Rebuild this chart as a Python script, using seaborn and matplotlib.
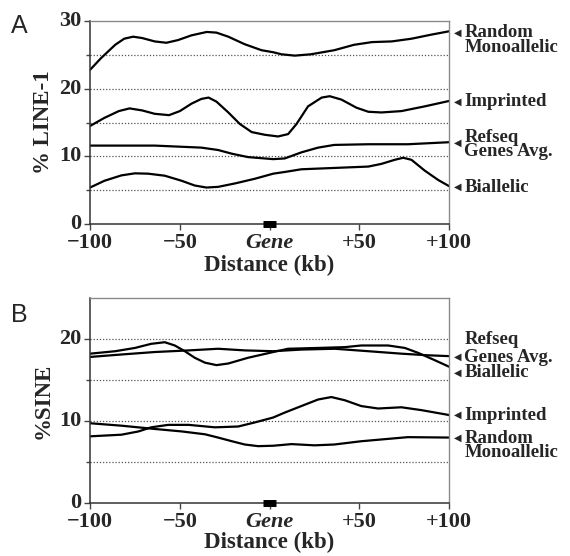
import numpy as np
import pandas as pd
import matplotlib
matplotlib.use("Agg")
import matplotlib.pyplot as plt
import matplotlib.transforms as mtransforms
import seaborn as sns

# ---- panel A: % LINE-1 ----
a_rand_x = [-100, -94, -86, -81, -76, -71, -64, -57.5, -51, -43.5, -35, -29.6, -23, -14, -4.5,
            2, 6.6, 14, 23, 36, 47, 57, 68, 79, 90, 100]
a_rand_y = [22.8, 24.5, 26.5, 27.4, 27.7, 27.5, 27.0, 26.8, 27.2, 27.9, 28.4, 28.3, 27.7, 26.6, 25.7,
            25.4, 25.1, 24.9, 25.1, 25.7, 26.5, 26.9, 27.0, 27.4, 28.0, 28.5]

a_impr_x = [-100, -92, -84, -78, -71, -64, -56, -50, -43.5, -38, -34, -29.6, -23, -16.6, -10, -2.7,
            4.7, 10.3, 15, 21.4, 29, 33.5, 40, 48.4, 55, 62.3, 73.4, 86.4, 100]
a_impr_y = [14.5, 15.7, 16.7, 17.1, 16.8, 16.3, 16.1, 16.7, 17.8, 18.5, 18.7, 18.1, 16.5, 14.8, 13.6, 13.2,
            12.95, 13.3, 14.8, 17.4, 18.7, 18.9, 18.4, 17.2, 16.6, 16.5, 16.7, 17.4, 18.2]

a_ref_x = [-100, -64, -38, -28.7, -21, -12, 2, 8.4, 17.7, 27, 36, 55, 77, 100]
a_ref_y = [11.6, 11.6, 11.3, 10.95, 10.4, 9.9, 9.6, 9.7, 10.6, 11.3, 11.7, 11.8, 11.8, 12.1]

a_bi_x = [-100, -92, -82.5, -75, -67.7, -58.4, -49, -41.7, -35.2, -28.7, -19.4, -8.2, 2,
          8.4, 17.7, 36.3, 55, 62.3, 69.7, 74.4, 79, 86.4, 94, 100]
a_bi_y = [5.4, 6.4, 7.2, 7.5, 7.45, 7.15, 6.4, 5.7, 5.4, 5.5, 6.0, 6.7, 7.45,
          7.7, 8.1, 8.3, 8.5, 8.9, 9.5, 9.8, 9.5, 7.9, 6.5, 5.6]

# ---- panel B: % SINE ----
b_ref_x = [-100, -82.5, -64, -45, -28.7, -13.8, 2, 17.7, 36.3, 55, 73.4, 88.3, 100]
b_ref_y = [17.8, 18.1, 18.4, 18.6, 18.8, 18.6, 18.5, 18.7, 18.8, 18.5, 18.2, 18.0, 17.9]

b_bi_x = [-100, -86, -75, -66, -58.4, -52.8, -47.2, -41.7, -36, -29.6, -23, -12, 2,
          10.3, 27, 42, 51, 66, 75.3, 82.7, 92, 100]
b_bi_y = [18.2, 18.5, 18.9, 19.4, 19.6, 19.2, 18.5, 17.7, 17.1, 16.8, 17.0, 17.7, 18.4,
          18.8, 18.9, 19.0, 19.2, 19.2, 18.9, 18.3, 17.4, 16.6]

b_impr_x = [-100, -82.5, -73, -66, -56.5, -45, -30.5, -17.5, -8.2, 2, 8.4, 17.7, 27, 34.4,
            42, 51, 60.4, 73.4, 84.6, 100]
b_impr_y = [8.1, 8.3, 8.7, 9.2, 9.5, 9.5, 9.2, 9.3, 9.8, 10.4, 11.0, 11.8, 12.6, 12.9,
            12.5, 11.8, 11.5, 11.65, 11.3, 10.7]

b_rand_x = [-100, -82.5, -64, -49, -36, -28.7, -21, -13.8, -6.4, 2, 12.2, 25, 36, 51, 64, 77, 100]
b_rand_y = [9.7, 9.4, 9.0, 8.7, 8.35, 7.95, 7.5, 7.1, 6.9, 6.95, 7.15, 7.0, 7.1, 7.5, 7.75, 8.0, 7.95]

x_ticks = [-100, -50, 0, 50, 100]
x_ticklabels = ["\u2212100", "\u221250", "Gene", "+50", "+100"]

sns.set_style("white")
plt.rcParams["font.family"] = ["Liberation Serif", "DejaVu Serif"]

fig = plt.figure(figsize=(5.7, 5.56), dpi=100)
axA = fig.add_axes([0.158, 0.597, 0.630, 0.365])
axB = fig.add_axes([0.158, 0.096, 0.630, 0.368])


def long_df(series):
    rows = []
    for name, xs, ys in series:
        for x, y in zip(xs, ys):
            rows.append((name, x, y))
    return pd.DataFrame(rows, columns=["series", "kb", "pct"])


def style_axis(ax, ymax, yticks, ylabel, xlabelpad):
    ax.set_xlim(-100, 100)
    ax.set_ylim(0, ymax)
    ax.set_yticks(yticks)
    ax.set_yticklabels([str(t) for t in yticks], fontsize=16, fontweight="bold")
    ax.set_yticks(np.arange(5, ymax, 10), minor=True)
    ax.set_xticks(x_ticks)
    ax.set_xticklabels(x_ticklabels, fontsize=16, fontweight="bold")
    ax.get_xticklabels()[2].set_fontstyle("italic")
    ax.xaxis.get_major_ticks()[2].tick1line.set_visible(False)
    ax.tick_params(axis="both", which="both", direction="out", length=4, width=1,
                   color="#444444", pad=2, left=True, bottom=True)
    ax.tick_params(axis="y", which="minor", length=3)
    ax.tick_params(axis="x", pad=2.5)
    # lift the y tick numbers a little, like the original
    up = mtransforms.ScaledTranslation(0, 2.5 / 100, fig.dpi_scale_trans)
    for t in ax.get_yticklabels():
        t.set_va("center_baseline")
        t.set_transform(t.get_transform() + up)
    for g in np.arange(5, ymax, 5):
        ax.axhline(g, color="#555555", lw=0.9, ls=(0, (1, 1.5)), zorder=0)
    for side in ["top", "right"]:
        ax.spines[side].set_color("#8a8a8a")
        ax.spines[side].set_linewidth(1.0)
    for side in ["left", "bottom"]:
        ax.spines[side].set_color("#333333")
        ax.spines[side].set_linewidth(1.1)
    ax.set_xlabel("Distance (kb)", fontsize=16.5, fontweight="bold", labelpad=xlabelpad)
    ax.set_ylabel(ylabel, fontsize=16.5, fontweight="bold", labelpad=4)
    # gene box on the axis
    ax.plot([-3.5, 3.5], [0, 0], color="black", lw=5, solid_capstyle="butt",
            clip_on=False, zorder=5)


def side_text(ax, y, text, arrow=True, shift=0.0):
    if arrow:
        ax.annotate("\u25c0", xy=(1, y), xycoords=("axes fraction", "data"),
                    xytext=(6, 0), textcoords="offset points", fontsize=7,
                    va="center", ha="center", family="DejaVu Sans",
                    annotation_clip=False)
    ax.annotate(text, xy=(1, y), xycoords=("axes fraction", "data"),
                xytext=(11, 6 + shift), textcoords="offset points", fontsize=13.5,
                fontweight="bold", va="top", ha="left", linespacing=0.8,
                annotation_clip=False)


dfA = long_df([("Random Monoallelic", a_rand_x, a_rand_y),
               ("Imprinted", a_impr_x, a_impr_y),
               ("Refseq", a_ref_x, a_ref_y),
               ("Biallelic", a_bi_x, a_bi_y)])
sns.lineplot(data=dfA, x="kb", y="pct", hue="series", palette=["black"] * 4,
             estimator=None, sort=True, legend=False, lw=1.6, ax=axA)
style_axis(axA, 30, [0, 10, 20, 30], "% LINE-1", 1.5)

dfB = long_df([("Refseq", b_ref_x, b_ref_y),
               ("Biallelic", b_bi_x, b_bi_y),
               ("Imprinted", b_impr_x, b_impr_y),
               ("Random Monoallelic", b_rand_x, b_rand_y)])
sns.lineplot(data=dfB, x="kb", y="pct", hue="series", palette=["black"] * 4,
             estimator=None, sort=True, legend=False, lw=1.6, ax=axB)
style_axis(axB, 25, [0, 10, 20], "%SINE", 0.5)

side_text(axA, 28.3, "Random\nMonoallelic")
side_text(axA, 18.1, "Imprinted")
side_text(axA, 12.0, "Refseq\nGenes Avg.", shift=4)
side_text(axA, 5.5, "Biallelic")

side_text(axB, 19.9, "Refseq", arrow=False)
side_text(axB, 17.8, "Genes Avg.")
side_text(axB, 15.9, "Biallelic")
side_text(axB, 10.7, "Imprinted")
side_text(axB, 7.9, "Random\nMonoallelic")

fig.text(0.02, 0.975, "A", fontsize=18, family="Liberation Sans", va="top")
fig.text(0.02, 0.455, "B", fontsize=18, family="Liberation Sans", va="top")

fig.savefig("out.png", dpi=100)
